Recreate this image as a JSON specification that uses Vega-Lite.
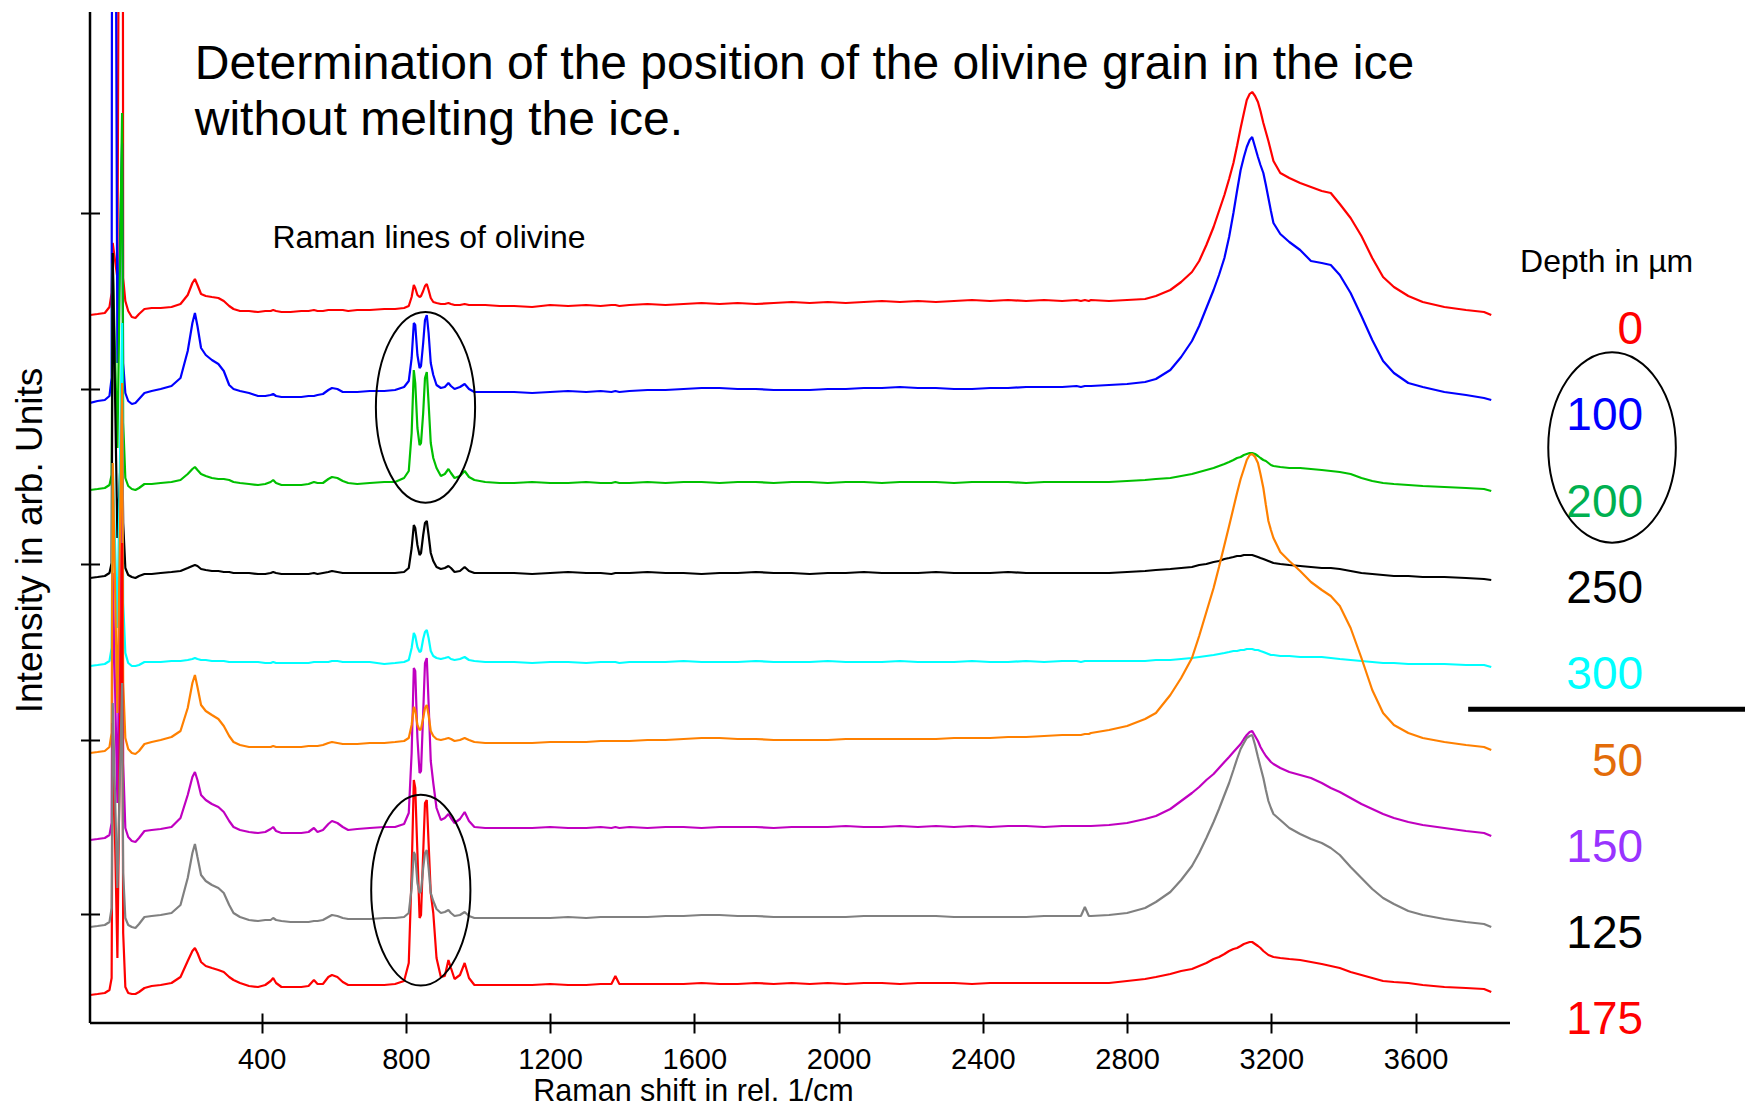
{
  "$schema": "https://vega.github.io/schema/vega-lite/v6.json",
  "width": 1420,
  "height": 1011,
  "autosize": {"type": "none"},
  "padding": {"left": 90, "top": 12, "right": 235, "bottom": 84},
  "background": "white",
  "config": {"view": {"stroke": null}, "font": "Liberation Sans"},
  "datasets": {
    "spectra": [
      {"x":-76,"r0":708,"b":620,"g":533,"k":445,"c":357,"o":270,"m":183,"gr":96,"r1":28},
      {"x":-55,"r0":709,"b":622,"g":534,"k":446,"c":358,"o":271,"m":184,"gr":97,"r1":29},
      {"x":-35,"r0":710,"b":623,"g":535,"k":447,"c":359,"o":272,"m":185,"gr":98,"r1":30},
      {"x":-22,"r0":716,"b":627,"g":538,"k":450,"c":362,"o":276,"m":188,"gr":101,"r1":33},
      {"x":-16,"r0":730,"b":645,"g":548,"k":460,"c":375,"o":290,"m":200,"gr":115,"r1":45},
      {"x":-13,"r0":780,"b":2000,"g":760,"k":770,"c":560,"o":560,"m":450,"gr":320,"r1":300},
      {"x":0,"r0":745,"b":660,"g":575,"k":485,"c":395,"o":310,"m":220,"gr":135,"r1":65},
      {"x":13,"r0":2000,"b":880,"g":910,"k":600,"c":700,"o":640,"m":620,"gr":340,"r1":480},
      {"x":16,"r0":745,"b":660,"g":600,"k":500,"c":420,"o":340,"m":260,"gr":150,"r1":90},
      {"x":22,"r0":722,"b":630,"g":545,"k":455,"c":370,"o":285,"m":195,"gr":105,"r1":36},
      {"x":30,"r0":712,"b":622,"g":537,"k":448,"c":360,"o":274,"m":186,"gr":98,"r1":30},
      {"x":40,"r0":706,"b":619,"g":534,"k":446,"c":357,"o":270,"m":182,"gr":96,"r1":29},
      {"x":50,"r0":705,"b":620,"g":533,"k":445,"c":357,"o":269,"m":181,"gr":95,"r1":29},
      {"x":60,"r0":709,"b":624,"g":535,"k":447,"c":358,"o":272,"m":185,"gr":99,"r1":31},
      {"x":75,"r0":714,"b":630,"g":539,"k":449,"c":361,"o":279,"m":192,"gr":106,"r1":35},
      {"x":95,"r0":715,"b":632,"g":539,"k":449,"c":361,"o":281,"m":193,"gr":107,"r1":37},
      {"x":120,"r0":715,"b":634,"g":540,"k":450,"c":361,"o":283,"m":194,"gr":108,"r1":38},
      {"x":150,"r0":716,"b":637,"g":541,"k":451,"c":362,"o":286,"m":196,"gr":110,"r1":40},
      {"x":175,"r0":719,"b":645,"g":543,"k":452,"c":362,"o":292,"m":205,"gr":118,"r1":46},
      {"x":195,"r0":728,"b":672,"g":549,"k":455,"c":363,"o":315,"m":228,"gr":145,"r1":62},
      {"x":208,"r0":740,"b":700,"g":554,"k":457,"c":364,"o":340,"m":246,"gr":170,"r1":72},
      {"x":215,"r0":744,"b":710,"g":556,"k":458,"c":365,"o":348,"m":251,"gr":179,"r1":75},
      {"x":222,"r0":738,"b":697,"g":553,"k":457,"c":364,"o":336,"m":243,"gr":166,"r1":70},
      {"x":232,"r0":729,"b":675,"g":549,"k":454,"c":363,"o":318,"m":228,"gr":148,"r1":61},
      {"x":245,"r0":727,"b":668,"g":547,"k":453,"c":363,"o":312,"m":223,"gr":142,"r1":57},
      {"x":262,"r0":726,"b":663,"g":545,"k":452,"c":362,"o":308,"m":219,"gr":138,"r1":55},
      {"x":280,"r0":725,"b":659,"g":544,"k":452,"c":362,"o":304,"m":216,"gr":135,"r1":53},
      {"x":295,"r0":722,"b":652,"g":544,"k":451,"c":362,"o":297,"m":211,"gr":130,"r1":51},
      {"x":310,"r0":717,"b":638,"g":543,"k":451,"c":361,"o":287,"m":202,"gr":118,"r1":46},
      {"x":322,"r0":714,"b":634,"g":541,"k":450,"c":361,"o":281,"m":196,"gr":110,"r1":43},
      {"x":340,"r0":712,"b":632,"g":540,"k":450,"c":361,"o":278,"m":193,"gr":106,"r1":40},
      {"x":365,"r0":712,"b":630,"g":539,"k":450,"c":361,"o":276,"m":191,"gr":103,"r1":37},
      {"x":390,"r0":711,"b":627,"g":538,"k":449,"c":361,"o":276,"m":190,"gr":102,"r1":36},
      {"x":410,"r0":712,"b":627,"g":539,"k":449,"c":360,"o":276,"m":191,"gr":103,"r1":38},
      {"x":425,"r0":712,"b":628,"g":541,"k":450,"c":360,"o":276,"m":194,"gr":103,"r1":42},
      {"x":432,"r0":713,"b":629,"g":543,"k":451,"c":361,"o":277,"m":196,"gr":105,"r1":45},
      {"x":440,"r0":712,"b":627,"g":540,"k":450,"c":360,"o":276,"m":192,"gr":103,"r1":40},
      {"x":455,"r0":711,"b":626,"g":538,"k":449,"c":360,"o":276,"m":190,"gr":102,"r1":36},
      {"x":480,"r0":711,"b":626,"g":538,"k":449,"c":360,"o":276,"m":190,"gr":101,"r1":36},
      {"x":510,"r0":712,"b":626,"g":538,"k":449,"c":360,"o":276,"m":190,"gr":101,"r1":36},
      {"x":530,"r0":712,"b":627,"g":539,"k":449,"c":360,"o":277,"m":191,"gr":101,"r1":37},
      {"x":545,"r0":713,"b":627,"g":541,"k":450,"c":361,"o":277,"m":195,"gr":102,"r1":43},
      {"x":555,"r0":712,"b":628,"g":540,"k":449,"c":361,"o":277,"m":191,"gr":102,"r1":39},
      {"x":570,"r0":712,"b":629,"g":540,"k":450,"c":361,"o":278,"m":193,"gr":103,"r1":39},
      {"x":585,"r0":713,"b":633,"g":544,"k":451,"c":361,"o":280,"m":199,"gr":106,"r1":46},
      {"x":595,"r0":713,"b":635,"g":546,"k":452,"c":362,"o":281,"m":202,"gr":108,"r1":48},
      {"x":610,"r0":713,"b":634,"g":545,"k":451,"c":362,"o":280,"m":200,"gr":107,"r1":46},
      {"x":625,"r0":713,"b":631,"g":542,"k":450,"c":361,"o":279,"m":196,"gr":105,"r1":41},
      {"x":640,"r0":712,"b":631,"g":540,"k":450,"c":361,"o":279,"m":193,"gr":104,"r1":38},
      {"x":665,"r0":713,"b":631,"g":539,"k":450,"c":361,"o":279,"m":194,"gr":104,"r1":38},
      {"x":700,"r0":713,"b":632,"g":540,"k":450,"c":361,"o":280,"m":195,"gr":104,"r1":38},
      {"x":740,"r0":714,"b":632,"g":541,"k":450,"c":359,"o":280,"m":196,"gr":105,"r1":38},
      {"x":770,"r0":714,"b":633,"g":541,"k":450,"c":360,"o":281,"m":196,"gr":105,"r1":39},
      {"x":795,"r0":715,"b":636,"g":545,"k":451,"c":361,"o":282,"m":199,"gr":106,"r1":42},
      {"x":808,"r0":717,"b":642,"g":552,"k":455,"c":363,"o":285,"m":210,"gr":110,"r1":60},
      {"x":816,"r0":726,"b":665,"g":590,"k":475,"c":375,"o":298,"m":270,"gr":135,"r1":150},
      {"x":822,"r0":738,"b":700,"g":653,"k":498,"c":390,"o":316,"m":355,"gr":171,"r1":243},
      {"x":826,"r0":735,"b":698,"g":640,"k":495,"c":387,"o":313,"m":352,"gr":168,"r1":235},
      {"x":832,"r0":728,"b":668,"g":595,"k":478,"c":376,"o":298,"m":285,"gr":140,"r1":170},
      {"x":838,"r0":726,"b":655,"g":578,"k":468,"c":371,"o":293,"m":250,"gr":130,"r1":105},
      {"x":842,"r0":727,"b":657,"g":580,"k":470,"c":372,"o":294,"m":252,"gr":132,"r1":108},
      {"x":848,"r0":732,"b":680,"g":610,"k":488,"c":384,"o":305,"m":310,"gr":155,"r1":170},
      {"x":853,"r0":737,"b":703,"g":645,"k":500,"c":391,"o":315,"m":360,"gr":170,"r1":220},
      {"x":858,"r0":739,"b":708,"g":651,"k":502,"c":393,"o":318,"m":365,"gr":173,"r1":223},
      {"x":863,"r0":733,"b":690,"g":620,"k":488,"c":385,"o":308,"m":320,"gr":155,"r1":180},
      {"x":869,"r0":725,"b":660,"g":580,"k":470,"c":372,"o":292,"m":262,"gr":130,"r1":130},
      {"x":876,"r0":721,"b":648,"g":565,"k":462,"c":367,"o":287,"m":240,"gr":122,"r1":110},
      {"x":885,"r0":720,"b":638,"g":555,"k":456,"c":365,"o":284,"m":215,"gr":114,"r1":65},
      {"x":897,"r0":719,"b":635,"g":547,"k":454,"c":364,"o":283,"m":203,"gr":110,"r1":46},
      {"x":908,"r0":719,"b":636,"g":549,"k":455,"c":365,"o":284,"m":205,"gr":111,"r1":47},
      {"x":918,"r0":720,"b":640,"g":554,"k":457,"c":366,"o":285,"m":209,"gr":113,"r1":63},
      {"x":925,"r0":719,"b":637,"g":550,"k":455,"c":364,"o":284,"m":205,"gr":110,"r1":55},
      {"x":935,"r0":718,"b":634,"g":545,"k":451,"c":363,"o":282,"m":200,"gr":107,"r1":44},
      {"x":950,"r0":718,"b":636,"g":547,"k":452,"c":364,"o":283,"m":204,"gr":108,"r1":48},
      {"x":963,"r0":719,"b":639,"g":552,"k":456,"c":366,"o":285,"m":211,"gr":111,"r1":60},
      {"x":975,"r0":718,"b":634,"g":546,"k":452,"c":363,"o":283,"m":202,"gr":107,"r1":45},
      {"x":990,"r0":718,"b":631,"g":543,"k":450,"c":362,"o":281,"m":196,"gr":105,"r1":38},
      {"x":1020,"r0":718,"b":631,"g":541,"k":450,"c":361,"o":280,"m":195,"gr":105,"r1":38},
      {"x":1060,"r0":717,"b":631,"g":540,"k":450,"c":361,"o":280,"m":195,"gr":105,"r1":38},
      {"x":1100,"r0":717,"b":631,"g":540,"k":450,"c":361,"o":280,"m":195,"gr":105,"r1":38},
      {"x":1150,"r0":716,"b":630,"g":541,"k":449,"c":360,"o":280,"m":195,"gr":105,"r1":38},
      {"x":1200,"r0":718,"b":631,"g":540,"k":450,"c":361,"o":281,"m":196,"gr":105,"r1":39},
      {"x":1250,"r0":717,"b":632,"g":540,"k":451,"c":361,"o":281,"m":195,"gr":106,"r1":38},
      {"x":1300,"r0":718,"b":631,"g":541,"k":450,"c":360,"o":281,"m":195,"gr":105,"r1":38},
      {"x":1340,"r0":717,"b":632,"g":540,"k":450,"c":361,"o":282,"m":196,"gr":106,"r1":39},
      {"x":1370,"r0":718,"b":631,"g":540,"k":449,"c":361,"o":282,"m":195,"gr":106,"r1":39},
      {"x":1381,"r0":718,"b":632,"g":541,"k":450,"c":361,"o":282,"m":196,"gr":106,"r1":47},
      {"x":1392,"r0":717,"b":631,"g":540,"k":450,"c":360,"o":282,"m":195,"gr":106,"r1":39},
      {"x":1420,"r0":718,"b":632,"g":540,"k":450,"c":361,"o":282,"m":196,"gr":106,"r1":39},
      {"x":1470,"r0":719,"b":633,"g":541,"k":451,"c":361,"o":283,"m":195,"gr":106,"r1":39},
      {"x":1520,"r0":718,"b":633,"g":540,"k":450,"c":361,"o":283,"m":196,"gr":107,"r1":39},
      {"x":1570,"r0":719,"b":634,"g":541,"k":450,"c":362,"o":284,"m":196,"gr":107,"r1":39},
      {"x":1620,"r0":720,"b":635,"g":541,"k":449,"c":361,"o":285,"m":195,"gr":108,"r1":40},
      {"x":1670,"r0":719,"b":635,"g":540,"k":450,"c":361,"o":285,"m":196,"gr":108,"r1":39},
      {"x":1720,"r0":720,"b":634,"g":541,"k":450,"c":361,"o":284,"m":196,"gr":107,"r1":39},
      {"x":1770,"r0":719,"b":634,"g":541,"k":451,"c":362,"o":284,"m":196,"gr":107,"r1":40},
      {"x":1820,"r0":720,"b":633,"g":540,"k":450,"c":361,"o":283,"m":195,"gr":106,"r1":39},
      {"x":1870,"r0":721,"b":633,"g":541,"k":450,"c":361,"o":283,"m":196,"gr":106,"r1":40},
      {"x":1920,"r0":720,"b":633,"g":541,"k":449,"c":361,"o":283,"m":196,"gr":106,"r1":39},
      {"x":1970,"r0":721,"b":634,"g":540,"k":450,"c":362,"o":283,"m":196,"gr":106,"r1":40},
      {"x":2020,"r0":720,"b":634,"g":541,"k":450,"c":361,"o":284,"m":197,"gr":106,"r1":39},
      {"x":2070,"r0":721,"b":635,"g":541,"k":451,"c":361,"o":284,"m":196,"gr":107,"r1":40},
      {"x":2120,"r0":722,"b":635,"g":540,"k":450,"c":361,"o":284,"m":196,"gr":107,"r1":40},
      {"x":2170,"r0":721,"b":636,"g":541,"k":450,"c":362,"o":284,"m":197,"gr":107,"r1":39},
      {"x":2220,"r0":722,"b":635,"g":541,"k":450,"c":361,"o":284,"m":196,"gr":107,"r1":40},
      {"x":2270,"r0":721,"b":635,"g":541,"k":451,"c":361,"o":284,"m":197,"gr":107,"r1":40},
      {"x":2320,"r0":722,"b":634,"g":540,"k":450,"c":361,"o":285,"m":196,"gr":106,"r1":40},
      {"x":2370,"r0":723,"b":634,"g":541,"k":450,"c":362,"o":285,"m":197,"gr":106,"r1":39},
      {"x":2420,"r0":722,"b":635,"g":541,"k":450,"c":361,"o":285,"m":196,"gr":106,"r1":40},
      {"x":2470,"r0":723,"b":635,"g":541,"k":451,"c":361,"o":286,"m":197,"gr":106,"r1":40},
      {"x":2520,"r0":722,"b":636,"g":540,"k":450,"c":362,"o":286,"m":197,"gr":106,"r1":40},
      {"x":2570,"r0":723,"b":636,"g":541,"k":450,"c":361,"o":287,"m":196,"gr":107,"r1":40},
      {"x":2620,"r0":722,"b":636,"g":541,"k":450,"c":362,"o":288,"m":197,"gr":107,"r1":40},
      {"x":2660,"r0":723,"b":637,"g":541,"k":450,"c":362,"o":288,"m":197,"gr":107,"r1":40},
      {"x":2672,"r0":722,"b":636,"g":541,"k":450,"c":361,"o":288,"m":197,"gr":107,"r1":40},
      {"x":2683,"r0":723,"b":637,"g":541,"k":450,"c":362,"o":289,"m":197,"gr":116,"r1":40},
      {"x":2694,"r0":722,"b":637,"g":541,"k":450,"c":362,"o":289,"m":197,"gr":107,"r1":40},
      {"x":2700,"r0":723,"b":637,"g":541,"k":450,"c":362,"o":290,"m":197,"gr":107,"r1":40},
      {"x":2750,"r0":722,"b":638,"g":541,"k":450,"c":362,"o":293,"m":198,"gr":108,"r1":40},
      {"x":2800,"r0":723,"b":639,"g":542,"k":451,"c":362,"o":297,"m":200,"gr":110,"r1":42},
      {"x":2850,"r0":724,"b":641,"g":543,"k":452,"c":362,"o":304,"m":204,"gr":115,"r1":44},
      {"x":2880,"r0":727,"b":644,"g":544,"k":453,"c":363,"o":310,"m":207,"gr":121,"r1":46},
      {"x":2920,"r0":733,"b":653,"g":545,"k":454,"c":363,"o":328,"m":214,"gr":131,"r1":49},
      {"x":2950,"r0":741,"b":666,"g":547,"k":455,"c":364,"o":345,"m":222,"gr":143,"r1":52},
      {"x":2980,"r0":751,"b":682,"g":549,"k":456,"c":365,"o":365,"m":230,"gr":157,"r1":54},
      {"x":3000,"r0":762,"b":697,"g":551,"k":458,"c":366,"o":387,"m":236,"gr":170,"r1":57},
      {"x":3020,"r0":778,"b":715,"g":553,"k":459,"c":367,"o":411,"m":243,"gr":185,"r1":60},
      {"x":3040,"r0":796,"b":733,"g":555,"k":461,"c":368,"o":435,"m":249,"gr":201,"r1":64},
      {"x":3055,"r0":812,"b":748,"g":557,"k":462,"c":369,"o":456,"m":255,"gr":214,"r1":66},
      {"x":3070,"r0":828,"b":765,"g":559,"k":464,"c":370,"o":478,"m":261,"gr":228,"r1":69},
      {"x":3083,"r0":844,"b":786,"g":561,"k":465,"c":371,"o":497,"m":266,"gr":240,"r1":72},
      {"x":3095,"r0":860,"b":810,"g":563,"k":466,"c":372,"o":515,"m":271,"gr":253,"r1":74},
      {"x":3105,"r0":877,"b":832,"g":565,"k":467,"c":372,"o":530,"m":275,"gr":264,"r1":75},
      {"x":3115,"r0":895,"b":853,"g":566,"k":467,"c":373,"o":544,"m":279,"gr":274,"r1":77},
      {"x":3124,"r0":910,"b":866,"g":568,"k":468,"c":373,"o":554,"m":284,"gr":280,"r1":79},
      {"x":3132,"r0":923,"b":876,"g":569,"k":468,"c":374,"o":563,"m":288,"gr":285,"r1":80},
      {"x":3140,"r0":929,"b":883,"g":570,"k":468,"c":374,"o":568,"m":291,"gr":287,"r1":81},
      {"x":3147,"r0":931,"b":886,"g":570,"k":468,"c":374,"o":569,"m":292,"gr":288,"r1":81},
      {"x":3155,"r0":927,"b":876,"g":569,"k":467,"c":373,"o":566,"m":287,"gr":278,"r1":79},
      {"x":3163,"r0":921,"b":866,"g":567,"k":466,"c":373,"o":560,"m":282,"gr":266,"r1":77},
      {"x":3170,"r0":912,"b":858,"g":565,"k":465,"c":372,"o":549,"m":276,"gr":256,"r1":75},
      {"x":3178,"r0":900,"b":850,"g":563,"k":464,"c":371,"o":535,"m":271,"gr":245,"r1":72},
      {"x":3185,"r0":891,"b":838,"g":562,"k":463,"c":370,"o":518,"m":267,"gr":233,"r1":70},
      {"x":3192,"r0":882,"b":825,"g":560,"k":462,"c":369,"o":502,"m":264,"gr":222,"r1":68},
      {"x":3199,"r0":872,"b":812,"g":558,"k":461,"c":368,"o":493,"m":261,"gr":215,"r1":67},
      {"x":3206,"r0":862,"b":800,"g":557,"k":460,"c":368,"o":485,"m":259,"gr":209,"r1":66},
      {"x":3225,"r0":850,"b":789,"g":556,"k":459,"c":367,"o":471,"m":255,"gr":203,"r1":65},
      {"x":3250,"r0":845,"b":781,"g":555,"k":458,"c":367,"o":462,"m":251,"gr":195,"r1":64},
      {"x":3280,"r0":840,"b":773,"g":555,"k":457,"c":366,"o":452,"m":248,"gr":189,"r1":63},
      {"x":3310,"r0":836,"b":762,"g":554,"k":456,"c":366,"o":441,"m":245,"gr":184,"r1":61},
      {"x":3340,"r0":832,"b":760,"g":553,"k":455,"c":366,"o":433,"m":240,"gr":180,"r1":59},
      {"x":3365,"r0":830,"b":758,"g":552,"k":455,"c":365,"o":427,"m":235,"gr":175,"r1":57},
      {"x":3390,"r0":819,"b":748,"g":551,"k":454,"c":364,"o":417,"m":231,"gr":168,"r1":55},
      {"x":3420,"r0":805,"b":730,"g":549,"k":452,"c":363,"o":395,"m":225,"gr":156,"r1":51},
      {"x":3450,"r0":787,"b":707,"g":545,"k":450,"c":362,"o":365,"m":219,"gr":145,"r1":48},
      {"x":3480,"r0":765,"b":683,"g":542,"k":449,"c":361,"o":333,"m":214,"gr":134,"r1":45},
      {"x":3510,"r0":746,"b":662,"g":540,"k":448,"c":360,"o":310,"m":209,"gr":125,"r1":42},
      {"x":3540,"r0":736,"b":650,"g":539,"k":447,"c":360,"o":298,"m":205,"gr":119,"r1":41},
      {"x":3580,"r0":727,"b":640,"g":538,"k":447,"c":359,"o":290,"m":201,"gr":112,"r1":40},
      {"x":3620,"r0":721,"b":636,"g":537,"k":446,"c":359,"o":285,"m":198,"gr":108,"r1":38},
      {"x":3680,"r0":716,"b":631,"g":536,"k":446,"c":359,"o":281,"m":195,"gr":104,"r1":36},
      {"x":3740,"r0":713,"b":628,"g":535,"k":445,"c":358,"o":278,"m":192,"gr":101,"r1":35},
      {"x":3790,"r0":711,"b":625,"g":534,"k":444,"c":358,"o":276,"m":190,"gr":99,"r1":34},
      {"x":3810,"r0":708,"b":623,"g":532,"k":443,"c":356,"o":273,"m":187,"gr":96,"r1":31}
    ],
    "titles": [
      {"x": 214.6, "y": 944, "t": "Determination of the position of the olivine grain in the ice"},
      {"x": 214.6, "y": 888, "t": "without melting the ice."}
    ],
    "notes": [
      {"x": 430, "y": 774.7, "t": "Raman lines of olivine"},
      {"x": 3890, "y": 751.3, "t": "Depth in µm"}
    ],
    "depths": [
      {"d": "0", "x": 4231, "y": 679},
      {"d": "100", "x": 4231, "y": 592.7},
      {"d": "200", "x": 4231, "y": 506.4},
      {"d": "250", "x": 4231, "y": 420.1},
      {"d": "300", "x": 4231, "y": 333.8},
      {"d": "50", "x": 4231, "y": 247.5},
      {"d": "150", "x": 4231, "y": 161.2},
      {"d": "125", "x": 4231, "y": 74.9},
      {"d": "175", "x": 4231, "y": -11.4}
    ],
    "olivineRings": [
      {"x": 854.4, "y": 615.7},
      {"x": 841.4, "y": 132.8}
    ],
    "depthRing": [{"x": 4145, "y": 575.5}],
    "separator": [{"x": 3746, "x2": 4514, "y": 313.7}],
    "xAxisLine": [{"x": -76, "x2": 3862, "y": 0}],
    "yAxisLine": [{"x": -76, "y": 0, "y2": 1011}]
  },
  "encoding": {
    "x": {
      "field": "x", "type": "quantitative",
      "scale": {"domain": [-76, 3862], "nice": false, "zero": false},
      "axis": {
        "values": [400, 800, 1200, 1600, 2000, 2400, 2800, 3200, 3600],
        "format": "d",
        "offset": -10, "tickSize": 20, "tickWidth": 2, "tickColor": "black",
        "domain": false, "grid": false,
        "labelFontSize": 29, "labelFont": "Liberation Sans", "labelColor": "black",
        "labelPadding": 12, "labelFlush": false, "labelOverlap": false,
        "title": "Raman shift in rel. 1/cm",
        "titleFont": "Liberation Sans", "titleFontSize": 30.5, "titleFontWeight": "normal", "titleColor": "black",
        "titleX": 603, "titleY": 87.5, "titleAlign": "center", "titleBaseline": "alphabetic"
      }
    },
    "y": {
      "field": "y", "type": "quantitative",
      "scale": {"domain": [0, 1011], "nice": false, "zero": false},
      "axis": {
        "values": [108.7, 283, 459, 633.7, 809.7],
        "offset": -9.5, "tickSize": 19, "tickWidth": 2, "tickColor": "black",
        "domain": false, "grid": false, "labels": false,
        "title": "Intensity in arb. Units",
        "titleFont": "Liberation Sans", "titleFontSize": 37, "titleFontWeight": "normal", "titleColor": "black",
        "titleAngle": 270, "titleX": -69, "titleY": 528, "titleAlign": "center", "titleBaseline": "middle"
      }
    }
  },
  "layer": [
    {
      "data": {"name": "spectra"},
      "transform": [{"fold": ["r0", "b", "g", "k", "c", "m", "o", "r1", "gr"], "as": ["s", "y"]}],
      "mark": {"type": "line", "strokeWidth": 2.2, "clip": true, "strokeJoin": "bevel"},
      "encoding": {
        "color": {
          "field": "s", "type": "nominal", "legend": null,
          "scale": {
            "domain": ["r0", "b", "g", "k", "c", "m", "o", "r1", "gr"],
            "range": ["#ff0000", "#0000ff", "#00c000", "#000000", "#00ffff", "#c000c0", "#ff8000", "#ff0000", "#808080"]
          }
        }
      }
    },
    {
      "data": {"name": "xAxisLine"},
      "mark": {"type": "rule", "color": "black", "strokeWidth": 2.5},
      "encoding": {"x2": {"field": "x2"}}
    },
    {
      "data": {"name": "yAxisLine"},
      "mark": {"type": "rule", "color": "black", "strokeWidth": 2.5},
      "encoding": {"y2": {"field": "y2"}}
    },
    {
      "data": {"name": "titles"},
      "mark": {"type": "text", "align": "left", "baseline": "alphabetic", "fontSize": 48, "font": "Liberation Sans", "color": "black"},
      "encoding": {"text": {"field": "t"}}
    },
    {
      "data": {"name": "notes"},
      "mark": {"type": "text", "align": "left", "baseline": "alphabetic", "fontSize": 32, "font": "Liberation Sans", "color": "black"},
      "encoding": {"text": {"field": "t"}}
    },
    {
      "data": {"name": "depths"},
      "mark": {"type": "text", "align": "right", "baseline": "alphabetic", "fontSize": 46, "font": "Liberation Sans"},
      "encoding": {
        "text": {"field": "d"},
        "color": {
          "field": "d", "type": "nominal", "legend": null,
          "scale": {
            "domain": ["0", "100", "200", "250", "300", "50", "150", "125", "175"],
            "range": ["#ff0000", "#0000ff", "#00b050", "#000000", "#00ffff", "#e36c09", "#9933ff", "#000000", "#ff0000"]
          }
        }
      }
    },
    {
      "data": {"name": "olivineRings"},
      "mark": {"type": "point", "filled": false, "color": "black", "strokeWidth": 2, "opacity": 1, "size": 36400,
               "shape": "M -0.52 0 A 0.52 1 0 1 1 0.52 0 A 0.52 1 0 1 1 -0.52 0 Z"}
    },
    {
      "data": {"name": "depthRing"},
      "mark": {"type": "point", "filled": false, "color": "black", "strokeWidth": 2, "opacity": 1, "size": 36252,
               "shape": "M -0.67 0 A 0.67 1 0 1 1 0.67 0 A 0.67 1 0 1 1 -0.67 0 Z"}
    },
    {
      "data": {"name": "separator"},
      "mark": {"type": "rule", "color": "black", "strokeWidth": 5},
      "encoding": {"x2": {"field": "x2"}}
    }
  ],
  "resolve": {"scale": {"color": "independent"}}
}
